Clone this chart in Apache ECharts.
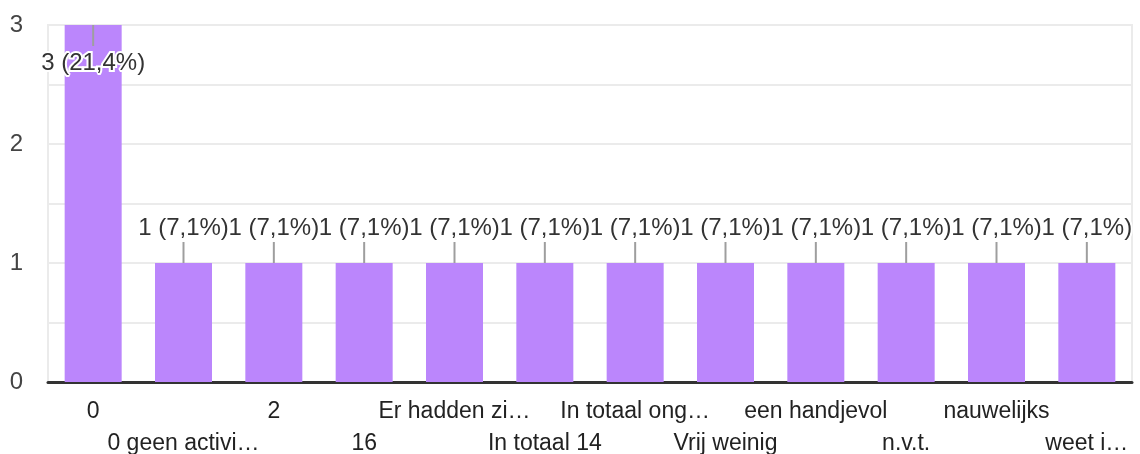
<!DOCTYPE html>
<html>
<head>
<meta charset="utf-8">
<script src="https://cdn.jsdelivr.net/npm/echarts@6/dist/echarts.min.js"></script>
<style>
  html, body { margin: 0; padding: 0; background: #fff; }
  #chart { width: 1140px; height: 454px; }
</style>
</head>
<body>
<div id="chart"></div>
<script>
// antwoorden + aantallen
const categories = [
  "0", "0 geen activi…", "2", "16", "Er hadden zi…", "In totaal 14",
  "In totaal ong…", "Vrij weinig", "een handjevol", "n.v.t.", "nauwelijks", "weet i…"
];
const counts = [3, 1, 1, 1, 1, 1, 1, 1, 1, 1, 1, 1];
const total = 14;
const yTicks = [0, 1, 2, 3];

const FONT = "Liberation Sans, Arial, sans-serif";

function labelText(v) {
  const pct = ((v / total) * 100).toFixed(1).replace(".", ",");
  return v + " (" + pct + "%)";
}

var chart = echarts.init(document.getElementById("chart"));

var option = {
  animation: false,
  grid: {
    left: 48,
    right: 8,
    top: 25,
    bottom: 72,
    outerBoundsMode: "none",
    show: true,
    borderColor: "#ebebeb",
    borderWidth: 2,
  },
  xAxis: {
    type: "category",
    data: categories,
    axisTick: { show: false },
    axisLine: { lineStyle: { color: "#333", width: 3 } },
    axisLabel: {
      interval: 0,
      margin: 14,
      color: "#222",
      fontFamily: FONT,
      fontSize: 23,
      lineHeight: 32,
      formatter: function (value, index) {
        return index % 2 ? "\n" + value : value;
      },
    },
  },
  yAxis: {
    type: "value",
    min: 0,
    max: 3,
    interval: 0.5,
    axisLine: { show: false },
    axisTick: { show: false },
    axisLabel: {
      margin: 25,
      color: "#444",
      fontFamily: FONT,
      fontSize: 24,
      formatter: function (v) {
        return yTicks.indexOf(v) >= 0 ? String(v) : "";
      },
    },
    splitLine: { lineStyle: { color: "#ebebeb", width: 2 } },
  },
  series: [
    {
      type: "bar",
      data: counts,
      barWidth: 57,
      itemStyle: { color: "#bb86fc" },
    },
    {
      // leader lijntjes + labels
      type: "custom",
      z: 5,
      data: counts.map(function (c, i) { return [i, c]; }),
      encode: { x: 0, y: 1 },
      renderItem: function (params, api) {
        var idx = api.value(0);
        var v = api.value(1);
        var pt = api.coord([idx, v]);
        var plotTop = params.coordSys.y;
        var inside = pt[1] - plotTop < 40;
        var dir = inside ? 1 : -1;
        var ty = pt[1] + dir * (inside ? 38 : 35);
        var txt = labelText(v);
        return {
          type: "group",
          children: [
            {
              type: "line",
              shape: { x1: pt[0], y1: pt[1], x2: pt[0], y2: pt[1] + dir * 21 },
              style: { stroke: "#9e9e9e", lineWidth: 2 },
            },
            {
              type: "text",
              x: pt[0],
              y: ty,
              style: {
                text: txt,
                font: "24px " + FONT,
                align: "center",
                verticalAlign: "middle",
                fill: "#fff",
                stroke: "#fff",
                lineWidth: 4,
              },
            },
            {
              type: "text",
              x: pt[0],
              y: ty,
              style: {
                text: txt,
                font: "24px " + FONT,
                align: "center",
                verticalAlign: "middle",
                fill: "#333",
              },
            },
          ],
        };
      },
    },
  ],
};

chart.setOption(option);
</script>
</body>
</html>
